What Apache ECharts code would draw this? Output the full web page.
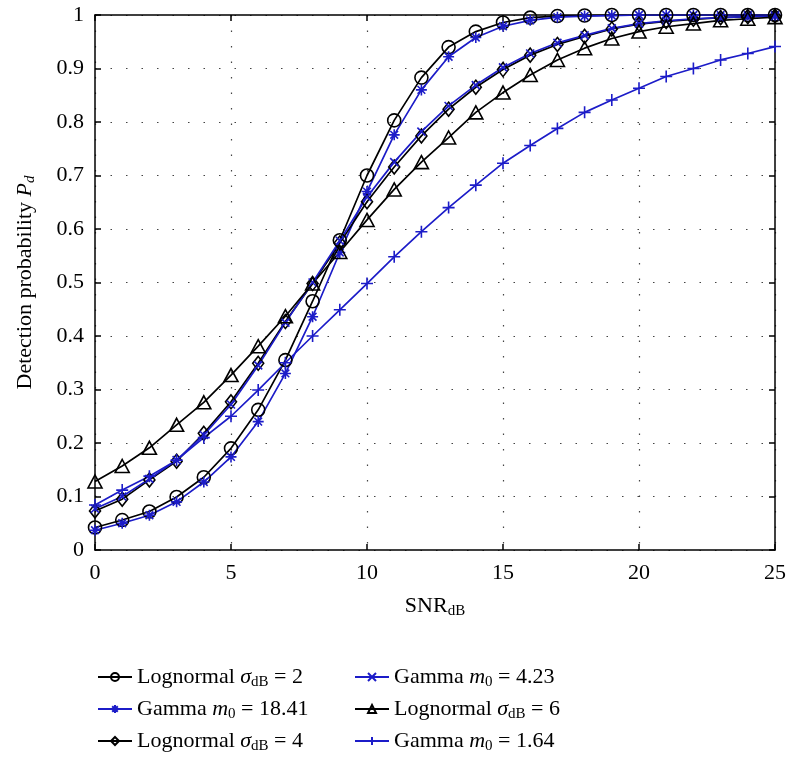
<!DOCTYPE html>
<html>
<head>
<meta charset="utf-8">
<script src="https://cdn.jsdelivr.net/npm/echarts@6/dist/echarts.min.js"></script>
<style>html,body{margin:0;padding:0;background:#fff}#c{width:790px;height:765px}</style>
</head>
<body>
<div id="c"></div>
<script>
const snr = [0,1,2,3,4,5,6,7,8,9,10,11,12,13,14,15,16,17,18,19,20,21,22,23,24,25];
const logn2  = [0.042,0.056,0.072,0.099,0.136,0.19,0.262,0.355,0.465,0.579,0.70,0.803,0.883,0.94,0.969,0.986,0.995,0.998,0.999,1,1,1,1,1,1,1];
const gam1841 = [0.037,0.05,0.065,0.09,0.127,0.174,0.24,0.33,0.436,0.556,0.67,0.776,0.86,0.922,0.958,0.979,0.99,0.996,0.998,0.999,1,1,1,1,1,1];
const logn4  = [0.073,0.095,0.131,0.166,0.218,0.277,0.349,0.427,0.498,0.574,0.651,0.716,0.774,0.824,0.865,0.898,0.925,0.945,0.96,0.974,0.983,0.988,0.992,0.995,0.997,0.998];
const gam423 = [0.077,0.1,0.133,0.168,0.215,0.272,0.345,0.425,0.50,0.578,0.66,0.725,0.782,0.83,0.869,0.902,0.928,0.948,0.962,0.975,0.984,0.989,0.993,0.995,0.997,0.998];
const logn6  = [0.128,0.157,0.191,0.234,0.276,0.327,0.381,0.437,0.498,0.557,0.617,0.674,0.725,0.771,0.818,0.855,0.888,0.916,0.938,0.956,0.969,0.978,0.984,0.99,0.993,0.996];
const gam164 = [0.084,0.112,0.138,0.168,0.21,0.25,0.299,0.35,0.40,0.449,0.498,0.548,0.595,0.640,0.682,0.723,0.756,0.788,0.818,0.841,0.863,0.885,0.90,0.916,0.928,0.941];
const xTicks = [0,5,10,15,20,25];
const yTicks = [0,0.1,0.2,0.3,0.4,0.5,0.6,0.7,0.8,0.9,1];

const BLACK = '#000000';
const BLUE = '#1c1cc8';
const FONT = '"Liberation Serif", "DejaVu Serif", serif';
const SYM = {
  circle: 'circle',
  asterisk: 'path://M0,5L10,5M5,0L5,10M1.5,1.5L8.5,8.5M1.5,8.5L8.5,1.5',
  diamond: 'path://M5,0L10,6.5L5,13L0,6.5Z',
  cross: 'path://M0,0L10,10M0,10L10,0',
  triangle: 'path://M5,0L10,9L0,9Z',
  plus: 'path://M0,5L10,5M5,0L5,10'
};
const rich = {
  i: {fontFamily: FONT, fontStyle: 'italic', fontSize: 22, lineHeight: 26, color: '#000'},
  s: {fontFamily: FONT, fontSize: 15, lineHeight: 15, verticalAlign: 'bottom', color: '#000'},
  si: {fontFamily: FONT, fontStyle: 'italic', fontSize: 15, lineHeight: 15, verticalAlign: 'bottom', color: '#000'},
  t: {fontFamily: FONT, fontSize: 22, lineHeight: 26, color: '#000'}
};
const labels = {
  'Lognormal σdB = 2': '{t|Lognormal }{i|σ}{s|dB}{t| = 2}',
  'Gamma m0 = 18.41': '{t|Gamma }{i|m}{s|0}{t| = 18.41}',
  'Lognormal σdB = 4': '{t|Lognormal }{i|σ}{s|dB}{t| = 4}',
  'Gamma m0 = 4.23': '{t|Gamma }{i|m}{s|0}{t| = 4.23}',
  'Lognormal σdB = 6': '{t|Lognormal }{i|σ}{s|dB}{t| = 6}',
  'Gamma m0 = 1.64': '{t|Gamma }{i|m}{s|0}{t| = 1.64}'
};
function mk(name, vals, color, sym, size) {
  return {
    name: name, type: 'line', data: snr.map((x, k) => [x, vals[k]]),
    symbol: SYM[sym], symbolSize: size, showAllSymbol: true,
    lineStyle: {color: color, width: 1.7},
    itemStyle: {color: 'rgba(0,0,0,0)', borderColor: color, borderWidth: 1.6},
    emphasis: {disabled: true}, animation: false, z: 3
  };
}
const series = [
  mk('Lognormal σdB = 2', logn2, BLACK, 'circle', 13),
  mk('Gamma m0 = 18.41', gam1841, BLUE, 'asterisk', 11),
  mk('Lognormal σdB = 4', logn4, BLACK, 'diamond', [11, 14]),
  mk('Gamma m0 = 4.23', gam423, BLUE, 'cross', 8),
  mk('Lognormal σdB = 6', logn6, BLACK, 'triangle', [14, 13]),
  mk('Gamma m0 = 1.64', gam164, BLUE, 'plus', 12)
];
const splitStyle = {show: true, lineStyle: {color: '#444', width: 1.2, type: [1.5, 14]}};
const axLine = {show: true, onZero: false, lineStyle: {color: '#000', width: 1.5}};
const tick = {show: true, inside: true, length: 6, lineStyle: {color: '#000', width: 1.5}};
const lblStyle = {fontFamily: FONT, fontSize: 22, color: '#000'};
const legBase = {
  orient: 'vertical', top: 661, itemWidth: 34, itemHeight: 10, itemGap: 8,
  selectedMode: false,
  formatter: n => labels[n],
  textStyle: {fontFamily: FONT, fontSize: 22, color: '#000', rich: rich}
};
const chart = echarts.init(document.getElementById('c'), null, {renderer: 'canvas'});
chart.setOption({
  backgroundColor: '#fff',
  animation: false,
  grid: {left: 95, right: 15, top: 15, bottom: 215, containLabel: false},
  xAxis: [{
    type: 'value', min: 0, max: 25, interval: 5,
    axisLine: axLine, axisTick: tick, splitLine: splitStyle,
    axisLabel: Object.assign({margin: 12, formatter: v => xTicks.includes(v) ? String(v) : ''}, lblStyle),
    name: '{t|SNR}{s|dB}', nameLocation: 'middle', nameGap: 43,
    nameTextStyle: {rich: rich}
  }, {
    type: 'value', position: 'top', min: 0, max: 25, interval: 5,
    axisLine: axLine, axisTick: tick, axisLabel: {show: false}, splitLine: {show: false}
  }],
  yAxis: [{
    type: 'value', min: 0, max: 1, interval: 0.1,
    axisLine: axLine, axisTick: tick, splitLine: splitStyle,
    axisLabel: Object.assign({margin: 11, formatter: v => {
      const r = Math.round(v * 10) / 10; return yTicks.includes(r) ? String(r) : '';
    }}, lblStyle),
    name: '{t|Detection probability }{i|P}{si|d}', nameLocation: 'middle', nameGap: 57,
    nameTextStyle: {rich: rich}
  }, {
    type: 'value', position: 'right', min: 0, max: 1, interval: 0.1,
    axisLine: axLine, axisTick: tick, axisLabel: {show: false}, splitLine: {show: false}
  }],
  legend: [
    Object.assign({}, legBase, {left: 92, data: ['Lognormal σdB = 2', 'Gamma m0 = 18.41', 'Lognormal σdB = 4']}),
    Object.assign({}, legBase, {left: 349, data: ['Gamma m0 = 4.23', 'Lognormal σdB = 6', 'Gamma m0 = 1.64']})
  ],
  series: series
});
</script>
</body>
</html>
